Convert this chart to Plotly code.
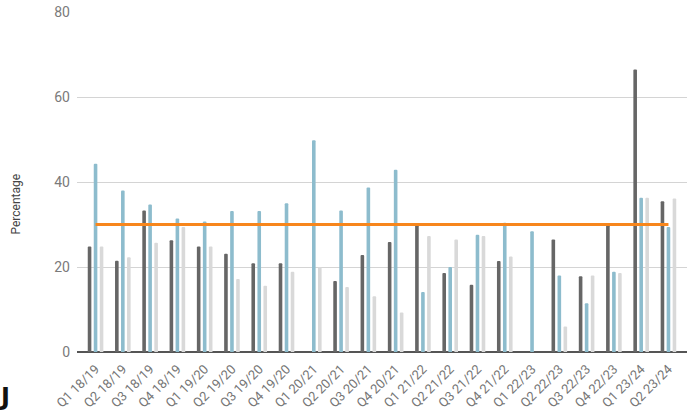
import plotly.graph_objects as go

# Quarterly categories
quarters = [
    "Q1 18/19", "Q2 18/19", "Q3 18/19", "Q4 18/19",
    "Q1 19/20", "Q2 19/20", "Q3 19/20", "Q4 19/20",
    "Q1 20/21", "Q2 20/21", "Q3 20/21", "Q4 20/21",
    "Q1 21/22", "Q2 21/22", "Q3 21/22", "Q4 21/22",
    "Q1 22/23", "Q2 22/23", "Q3 22/23", "Q4 22/23",
    "Q1 23/24", "Q2 23/24",
]

# Series values (percentage); None where no value was reported
series_dark = [24.8, 21.5, 33.3, 26.3, 24.8, 23.1, 20.9, 20.9,
               None, 16.7, 22.8, 25.9, 29.8, 18.6, 15.8, 21.4,
               None, 26.5, 17.8, 29.8, 66.5, 35.5]
series_teal = [44.3, 38.0, 34.7, 31.4, 30.7, 33.2, 33.2, 35.0,
               49.8, 33.3, 38.7, 42.9, 14.1, 20.0, 27.6, 30.4,
               28.4, 18.0, 11.5, 18.9, 36.3, 29.4]
series_light = [24.8, 22.3, 25.7, 29.4, 24.8, 17.2, 15.6, 18.9,
                20.0, 15.3, 13.1, 9.3, 27.3, 26.5, 27.3, 22.5,
                None, 6.0, 18.0, 18.6, 36.3, 36.1]
target = [30] * len(quarters)

y_ticks = [0, 20, 40, 60, 80]

fig = go.Figure()
for vals, color in [(series_dark, "#666666"),
                    (series_teal, "#8dbccd"),
                    (series_light, "#d9d9d9")]:
    fig.add_trace(go.Bar(x=quarters, y=vals, marker=dict(color=color, line=dict(width=0),
                                                         cornerradius=2)))

fig.add_trace(go.Scatter(x=quarters, y=target, mode="lines",
                         line=dict(color="#f7861c", width=3)))

fig.update_layout(
    width=692, height=418,
    margin=dict(l=77, r=5, t=12, b=66),
    paper_bgcolor="white", plot_bgcolor="white",
    barmode="group", bargap=0.34, bargroupgap=0.4,
    showlegend=False,
    font=dict(family="Roboto, sans-serif", color="#777777"),
    xaxis=dict(
        type="category", range=[-0.68, len(quarters) - 0.32],
        tickangle=-45, tickfont=dict(size=13, color="#757575"),
        showgrid=False, showline=False, ticks="", ticklabelstandoff=6,
    ),
    yaxis=dict(
        range=[0, 80], tickvals=y_ticks, tickfont=dict(size=14, color="#7a7a7a"),
        showgrid=True, gridcolor="#d4d4d4", gridwidth=1,
        zeroline=True, zerolinecolor="#555555", zerolinewidth=1.5,
        ticks="", ticklabelstandoff=6,
    ),
    annotations=[
        dict(text="Percentage", textangle=-90, xref="paper", yref="paper",
             x=-77 / 610 + 15 / 610, y=(351.5 - 203) / 340, xanchor="center", yanchor="middle",
             showarrow=False, font=dict(size=12, color="#444444")),
        dict(text="<b>J</b>", xref="paper", yref="paper",
             x=-77 / 610 + 12 / 610, y=(351.5 - 396) / 340, xanchor="right", yanchor="middle",
             showarrow=False, font=dict(size=24, color="#111111", family="DejaVu Sans")),
    ],
)

fig.write_html("out.html")
